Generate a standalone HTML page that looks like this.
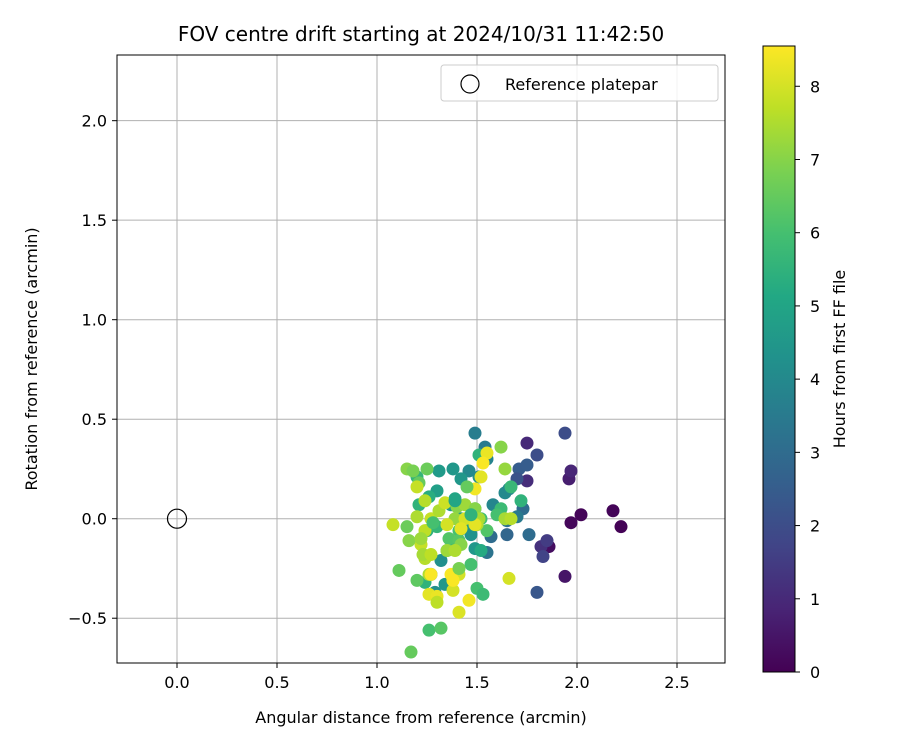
<!DOCTYPE html>
<html><head><meta charset="utf-8"><style>
body{margin:0;background:#fff;font-family:"Liberation Sans","DejaVu Sans",sans-serif}
text{font-family:"DejaVu Sans","Liberation Sans",sans-serif}
</style></head><body>
<svg id="chart" width="900" height="750" xmlns="http://www.w3.org/2000/svg">
<defs><linearGradient id="vir" x1="0" y1="1" x2="0" y2="0">
<stop offset="0" stop-color="#440154"/><stop offset="0.1" stop-color="#482475"/><stop offset="0.2" stop-color="#414487"/><stop offset="0.3" stop-color="#355f8d"/><stop offset="0.4" stop-color="#2a788e"/><stop offset="0.5" stop-color="#21918c"/><stop offset="0.6" stop-color="#22a884"/><stop offset="0.7" stop-color="#44bf70"/><stop offset="0.8" stop-color="#7ad151"/><stop offset="0.9" stop-color="#bddf26"/><stop offset="1" stop-color="#fde725"/>
</linearGradient></defs>
<text x="421" y="41" font-size="20" text-anchor="middle">FOV centre drift starting at 2024/10/31 11:42:50</text>
<g id="grid"></g>
<g id="pts"></g>
<rect x="117" y="55" width="608" height="608" fill="none" stroke="#000" stroke-width="1"/>
<g id="ticks"></g>
<text x="421" y="723" font-size="16" text-anchor="middle">Angular distance from reference (arcmin)</text>
<text transform="translate(37,359) rotate(-90)" font-size="16" text-anchor="middle">Rotation from reference (arcmin)</text>
<g>
<rect x="441" y="65" width="277" height="36" rx="3" fill="#fff" fill-opacity="0.85" stroke="#ccc"/>
<circle cx="470" cy="84" r="9" fill="none" stroke="#000" stroke-width="1.2"/>
<text x="505" y="90" font-size="16">Reference platepar</text>
</g>
<rect x="763" y="46" width="32" height="626" fill="url(#vir)" stroke="#000" stroke-width="1"/>
<g id="cbt"></g>
<text transform="translate(845,359) rotate(-90)" font-size="16" text-anchor="middle">Hours from first FF file</text>
</svg>
<script>
const xTicks=[0,0.5,1,1.5,2,2.5];
const xTickLabels=["0.0","0.5","1.0","1.5","2.0","2.5"];
const yTicks=[-0.5,0,0.5,1,1.5,2];
const yTickLabels=["\u22120.5","0.0","0.5","1.0","1.5","2.0"];
const cTicks=[0,1,2,3,4,5,6,7,8];
const xs=[2.18,2.22,2.02,1.97,1.86,1.94,1.96,1.97,1.75,1.75,1.82,1.85,1.83,1.94,1.80,1.71,1.75,1.70,1.80,1.73,1.76,1.70,1.65,1.65,1.57,1.55,1.49,1.54,1.55,1.58,1.66,1.64,1.51,1.46,1.42,1.38,1.31,1.30,1.37,1.39,1.42,1.45,1.47,1.49,1.52,1.40,1.35,1.32,1.27,1.29,1.34,1.24,1.26,1.21,1.20,1.25,1.30,1.51,1.67,1.72,1.62,1.60,1.52,1.55,1.49,1.41,1.36,1.41,1.47,1.50,1.53,1.20,1.26,1.32,1.17,1.11,1.15,1.21,1.25,1.62,1.64,1.40,1.44,1.39,1.42,1.35,1.39,1.49,1.51,1.50,1.64,1.67,1.24,1.20,1.27,1.22,1.24,1.26,1.16,1.20,1.24,1.31,1.34,1.35,1.44,1.49,1.55,1.53,1.52,1.49,1.41,1.38,1.37,1.27,1.26,1.30,1.46,1.41,1.38,1.38,1.66,1.42,1.15,1.18,1.23,1.30,1.41,1.22,1.08,1.27,1.28,1.39,1.47,1.45];
const ys=[0.04,-0.04,0.02,-0.02,-0.14,-0.29,0.20,0.24,0.38,0.19,-0.14,-0.11,-0.19,0.43,0.32,0.25,0.27,0.20,-0.37,0.05,-0.08,0.01,-0.01,-0.08,-0.09,-0.17,0.43,0.36,0.30,0.07,0.15,0.13,0.21,0.24,0.20,0.25,0.24,0.14,0.07,0.10,0.00,-0.03,-0.08,-0.15,-0.16,-0.13,-0.16,-0.21,-0.28,-0.37,-0.33,-0.32,0.11,0.07,0.21,-0.06,-0.04,0.32,0.16,0.09,0.05,0.02,0.00,-0.06,0.05,-0.06,-0.10,-0.11,-0.23,-0.35,-0.38,-0.31,-0.56,-0.55,-0.67,-0.26,-0.04,0.18,0.25,0.36,0.25,0.06,0.07,0.00,-0.13,-0.16,-0.16,0.05,0.00,-0.03,0.00,0.00,-0.06,0.01,0.00,-0.13,-0.20,-0.28,-0.11,0.16,0.09,0.04,0.08,-0.03,0.00,-0.03,0.33,0.28,0.21,0.15,-0.28,-0.31,-0.28,-0.28,-0.38,-0.39,-0.41,-0.47,-0.36,-0.31,-0.30,-0.05,0.25,0.24,-0.18,-0.42,-0.25,-0.10,-0.03,-0.18,-0.02,0.09,0.02,0.16,0.07,0.12];
const hours=[0.1,0.05,0.1,0.15,0.3,0.5,0.7,0.9,1.0,1.1,1.2,1.5,1.7,2.0,2.0,2.5,2.5,2.2,2.3,3.0,3.0,3.5,3.2,2.8,3.0,3.3,3.6,3.5,3.8,3.9,4.0,4.0,4.2,4.0,4.5,4.5,4.6,4.8,4.6,5.0,4.7,4.8,4.3,4.5,5.2,5.0,5.0,4.2,4.0,4.2,4.5,5.5,5.3,5.5,5.6,5.4,5.6,5.5,5.7,5.5,5.8,6.0,5.9,6.2,5.8,6.0,6.2,6.3,6.0,6.0,5.8,6.4,6.0,6.3,6.5,6.5,6.6,6.5,6.6,7.0,7.2,7.0,7.3,7.2,7.0,7.3,7.5,7.0,7.4,7.6,7.4,7.6,7.7,7.5,7.8,7.8,7.6,7.5,7.0,7.8,7.6,7.5,7.9,8.0,8.0,8.2,8.3,8.5,8.2,8.4,8.0,8.3,8.5,8.5,8.2,8.3,8.4,8.1,8.0,8.5,8.0,8.2,7.0,6.8,7.4,7.7,6.8,7.3,7.8,7.7,6.0,5.0,5.5,6.5];
const NS="http://www.w3.org/2000/svg";
const X0=117,X1=725,Y0=55,Y1=663,xmin=-0.3,xmax=2.74,ymin=-0.725,ymax=2.33;
const sx=v=>X0+(v-xmin)/(xmax-xmin)*(X1-X0);
const sy=v=>Y1-(v-ymin)/(ymax-ymin)*(Y1-Y0);
const cy=v=>672-v/8.55*626;
const vir=["#440154","#482475","#414487","#355f8d","#2a788e","#21918c","#22a884","#44bf70","#7ad151","#bddf26","#fde725"];
function hex(h){return [1,3,5].map(i=>parseInt(h.substr(i,2),16));}
function col(h){let t=Math.max(0,Math.min(1,h/8.55))*10;let i=Math.min(9,Math.floor(t)),f=t-i;let a=hex(vir[i]),b=hex(vir[i+1]);return "rgb("+a.map((v,k)=>Math.round(v+(b[k]-v)*f)).join(",")+")";}
function mk(tag,at,parent){const e=document.createElementNS(NS,tag);for(const k in at)e.setAttribute(k,at[k]);parent.appendChild(e);return e;}
const grid=document.getElementById('grid'),ticks=document.getElementById('ticks');
xTicks.forEach((v,i)=>{const x=sx(v);
const g=mk('line',{x1:x,x2:x,y1:Y0,y2:Y1,stroke:'#b0b0b0','stroke-width':1},grid);

mk('line',{x1:x,x2:x,y1:Y1,y2:Y1+5,stroke:'#000'},ticks);
const t=mk('text',{x:x,y:Y1+25,'font-size':16,'text-anchor':'middle'},ticks);t.textContent=xTickLabels[i];
});
yTicks.forEach((v,i)=>{const y=sy(v);
const g=mk('line',{x1:X0,x2:X1,y1:y,y2:y,stroke:'#b0b0b0','stroke-width':1},grid);

mk('line',{x1:X0-5,x2:X0,y1:y,y2:y,stroke:'#000'},ticks);
const t=mk('text',{x:X0-10,y:y+6,'font-size':16,'text-anchor':'end'},ticks);t.textContent=yTickLabels[i];
});
const pts=document.getElementById('pts');
xs.forEach((v,i)=>{const c=mk('circle',{cx:sx(v),cy:sy(ys[i]),r:6.5,fill:col(hours[i])},pts);
});
const ref=mk('circle',{cx:sx(0),cy:sy(0),r:9.5,fill:'none',stroke:'#000','stroke-width':1.2},pts);

const cbt=document.getElementById('cbt');
cTicks.forEach(v=>{const y=cy(v);mk('line',{x1:795,x2:800,y1:y,y2:y,stroke:'#000'},cbt);
const t=mk('text',{x:810,y:y+6,'font-size':16},cbt);t.textContent=String(v);
});
</script>
</body></html>
